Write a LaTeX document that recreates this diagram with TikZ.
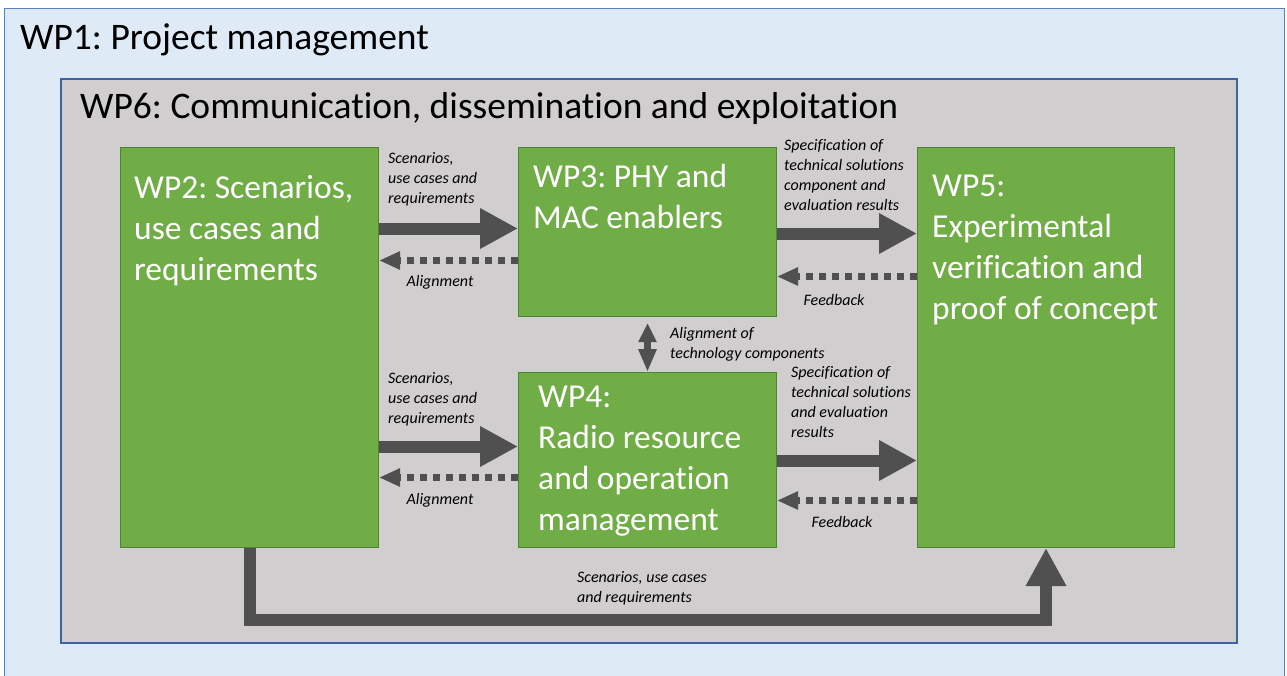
\documentclass[tikz,border=0pt]{standalone}
\usepackage{fontspec}
\setmainfont{Carlito}[Ligatures=NoCommon]
\frenchspacing
\usetikzlibrary{arrows.meta,calc}

\definecolor{wpblue}{HTML}{DEEAF6}
\definecolor{wpframe}{HTML}{5A7FBF}
\definecolor{wpframedark}{HTML}{3F62A0}
\definecolor{wpgrey}{HTML}{D0CECE}
\definecolor{wpgreen}{HTML}{70AD47}
\definecolor{wpgreenline}{HTML}{548235}
\definecolor{flowgrey}{HTML}{505050}

\tikzset{
	wp/.style={draw=wpgreenline,fill=wpgreen,line width=1pt,anchor=north west,inner sep=0pt},
	wptext/.style={text=white,font=\fontsize{33.5}{41}\selectfont,align=left,anchor=north west,inner sep=0pt},
	wptitle/.style={font=\fontsize{37.5}{45}\selectfont,anchor=west,inner sep=0pt},
	note/.style={font=\fontsize{16}{20}\selectfont\itshape,align=left,anchor=north west,inner sep=0pt},
	flow/.style={draw=flowgrey,line width=12pt,line join=miter,-{Triangle[width=38pt,length=38pt]}},
	back/.style={draw=flowgrey,line width=7pt,dash pattern=on 7pt off 6pt,-{Triangle[width=17pt,length=21pt]}},
	link/.style={draw=flowgrey,line width=7pt,{Triangle[width=17pt,length=19pt]}-{Triangle[width=17pt,length=23pt]}}
}

\begin{document}
\begin{tikzpicture}[x=1pt,y=-1pt]
	\useasboundingbox (0,0) rectangle (1287,675);
	% frames
	\node[draw=wpframe,fill=wpblue,line width=1.2pt,anchor=north west,inner sep=0pt,
		minimum width=1280,minimum height=690] (wp1) at (4,8) {};
	\node[wptitle] (wp1t) at (20,40) {WP1: Project management};
	\node[draw=wpframedark,fill=wpgrey,line width=1.5pt,anchor=north west,inner sep=0pt,
		minimum width=1176,minimum height=564] (wp6) at (60,78) {};
	\node[wptitle] (wp6t) at (80,108) {WP6: Communication, dissemination and exploitation};
	
	% work packages
	\node[wp,minimum width=258,minimum height=400] (wp2) at (120,147) {};
	\node[wp,minimum width=258,minimum height=169] (wp3) at (518,147) {};
	\node[wp,minimum width=258,minimum height=175] (wp4) at (518,372) {};
	\node[wp,minimum width=257,minimum height=400] (wp5) at (917,147) {};
	\node[wptext] (wp2t) at ($(wp2.north west)+(14,28)$) {WP2: Scenarios,\\use cases and\\requirements};
	\node[wptext] (wp3t) at ($(wp3.north west)+(15,17)$) {WP3: PHY and\\MAC enablers};
	\node[wptext] (wp4t) at ($(wp4.north west)+(20,14)$) {WP4:\\Radio resource\\and operation\\management};
	\node[wptext] (wp5t) at ($(wp5.north west)+(15,28)$) {WP5:\\Experimental\\verification and\\proof of concept};
	
	% arrow ends on the box sides
	\path ($(wp3.west)+(0,-3.5)$) coordinate (in3)
		($(wp3.west)+(0,28.5)$) coordinate (back3)
		($(wp3.east)+(0,1.5)$) coordinate (out3)
		($(wp3.east)+(0,44.5)$) coordinate (fb3)
		($(wp4.west)+(0,-13.5)$) coordinate (in4)
		($(wp4.west)+(0,17.5)$) coordinate (back4)
		($(wp4.east)+(0,0.5)$) coordinate (out4)
		($(wp4.east)+(0,40.5)$) coordinate (fb4);
	
	\draw[flow] (wp2.east |- in3) -- (in3);
	\draw[back] (back3) -- (wp2.east |- back3);
	\draw[flow] (out3) -- (wp5.west |- out3);
	\draw[back] (wp5.west |- fb3) -- (fb3);
	\draw[flow] (wp2.east |- in4) -- (in4);
	\draw[back] (back4) -- (wp2.east |- back4);
	\draw[flow] (out4) -- (wp5.west |- out4);
	\draw[back] (wp5.west |- fb4) -- (fb4);
	\draw[link] ($(wp3.south)+(0,6)$) -- (wp4.north);
	\draw[flow] (wp2.south) |- ($(wp5.south)+(0,72)$) -- (wp5.south);
	
	% labels
	\node[note] (n1) at (388,152) {Scenarios,\\use cases and\\requirements};
	\node[note,anchor=center] (n2) at (440,282) {Alignment};
	\node[note] (n3) at (784,139) {Specification of\\technical solutions\\component and\\evaluation results};
	\node[note,anchor=center] (n4) at (834,300) {Feedback};
	\node[note] (n5) at (670,327) {Alignment of\\technology components};
	\node[note] (n6) at (388,372) {Scenarios,\\use cases and\\requirements};
	\node[note,anchor=center] (n7) at (440,500) {Alignment};
	\node[note] (n8) at (791,366) {Specification of\\technical solutions\\and evaluation\\results};
	\node[note,anchor=center] (n9) at (842,522) {Feedback};
	\node[note] (n10) at (577,571) {Scenarios, use cases\\and requirements};
\end{tikzpicture}
\end{document}
